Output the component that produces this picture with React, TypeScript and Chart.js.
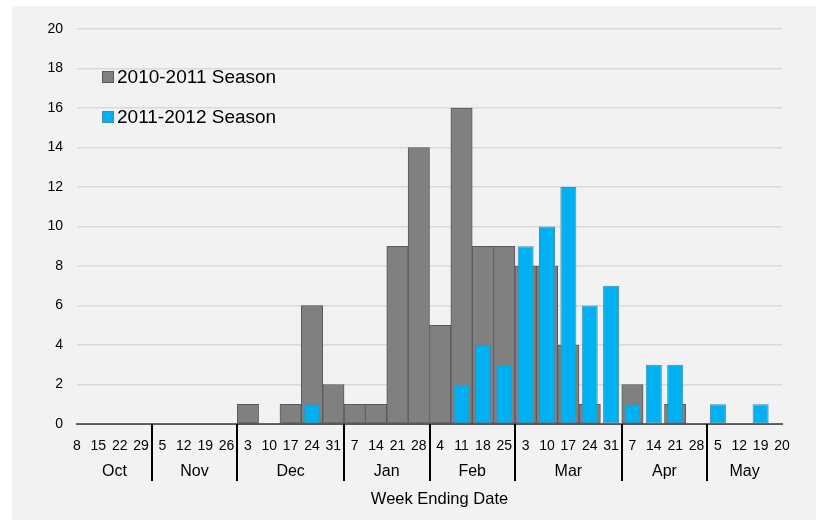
import React, { useEffect, useRef } from "react";
import { Chart, registerables } from "chart.js";

Chart.register(...registerables);

const weekLabels = [
  "8", "15", "22", "29",
  "5", "12", "19", "26",
  "3", "10", "17", "24", "31",
  "7", "14", "21", "28",
  "4", "11", "18", "25",
  "3", "10", "17", "24", "31",
  "7", "14", "21", "28",
  "5", "12", "19", "20",
];

const months = ["Oct", "Nov", "Dec", "Jan", "Feb", "Mar", "Apr", "May"];
const weeksPerMonth = [4, 4, 5, 4, 4, 5, 4, 4];

const season2010 = [
  0, 0, 0, 0,
  0, 0, 0, 0,
  1, 0, 1, 6, 2,
  1, 1, 9, 14,
  5, 16, 9, 9,
  8, 8, 4, 1, 0,
  2, 0, 1, 0,
  0, 0, 0, 0,
];

const season2011 = [
  0, 0, 0, 0,
  0, 0, 0, 0,
  0, 0, 0, 1, 0,
  0, 0, 0, 0,
  0, 2, 4, 3,
  9, 10, 12, 6, 7,
  1, 3, 3, 0,
  1, 0, 1, 0,
];

const seriesNames = ["2010-2011 Season", "2011-2012 Season"];
const GREY = "#808080";
const GREY_BORDER = "#595959";
const BLUE = "#00b0f0";
const BLUE_BORDER = "#3f8fb3";
const FONT = "'Liberation Sans', Arial, sans-serif";

const overlayPlugin = {
  id: "overlay",
  afterDraw(chart: any) {
    const { ctx, chartArea } = chart;
    const x = chart.scales.x;
    const bottom = chartArea.bottom;
    ctx.save();
    const seps: number[] = [];
    let cum = 0;
    for (let i = 0; i < weeksPerMonth.length - 1; i++) {
      cum += weeksPerMonth[i];
      const px = (x.getPixelForValue(cum - 1) + x.getPixelForValue(cum)) / 2;
      seps.push(px);
    }
    ctx.strokeStyle = "#000";
    ctx.lineWidth = 2;
    seps.forEach((px) => {
      ctx.beginPath();
      ctx.moveTo(Math.round(px), bottom);
      ctx.lineTo(Math.round(px), bottom + 57);
      ctx.stroke();
    });
    const bounds = [chartArea.left, ...seps, chartArea.right];
    ctx.fillStyle = "#000";
    ctx.font = `16px ${FONT}`;
    ctx.textAlign = "center";
    ctx.textBaseline = "middle";
    months.forEach((m, i) => {
      ctx.fillText(m, (bounds[i] + bounds[i + 1]) / 2, bottom + 48);
    });
    ctx.font = `16.5px ${FONT}`;
    ctx.fillText("Week Ending Date", (chartArea.left + chartArea.right) / 2 + 10, bottom + 75);
    const colors = [GREY, BLUE];
    const borders = [GREY_BORDER, BLUE_BORDER];
    ctx.font = `19px ${FONT}`;
    ctx.textAlign = "left";
    seriesNames.forEach((name, i) => {
      const ly = chartArea.top + 48 + i * 40;
      ctx.fillStyle = colors[i];
      ctx.fillRect(chartArea.left + 25.5, ly - 5.5, 11, 11);
      ctx.strokeStyle = borders[i];
      ctx.lineWidth = 1;
      ctx.strokeRect(chartArea.left + 25.5, ly - 5.5, 11, 11);
      ctx.fillStyle = "#000";
      ctx.fillText(name, chartArea.left + 40, ly + 1);
    });
    ctx.restore();
  },
};

export default function App() {
  const canvasRef = useRef<HTMLCanvasElement | null>(null);

  useEffect(() => {
    document.body.style.margin = "0";
    const canvas = canvasRef.current;
    if (!canvas) return;
    const chart = new Chart(canvas, {
      type: "bar",
      data: {
        labels: weekLabels,
        datasets: [
          {
            label: seriesNames[0],
            data: season2010,
            backgroundColor: GREY,
            borderColor: GREY_BORDER,
            borderWidth: (c: any) => (c.raw ? 1 : 0),
            borderSkipped: false,
            barPercentage: 1,
            categoryPercentage: 1,
            grouped: false,
            order: 2,
          },
          {
            label: seriesNames[1],
            data: season2011,
            backgroundColor: BLUE,
            borderColor: BLUE_BORDER,
            borderWidth: (c: any) => (c.raw ? 1 : 0),
            borderSkipped: false,
            barPercentage: 0.75,
            categoryPercentage: 1,
            grouped: false,
            order: 1,
          },
        ],
      },
      options: {
        responsive: false,
        animation: false,
        devicePixelRatio: 1,
        layout: { padding: { left: 0, right: 36, top: 29, bottom: 0 } },
        plugins: {
          legend: { display: false },
          tooltip: { enabled: false },
        },
        scales: {
          x: {
            type: "category",
            offset: false,
            stacked: false,
            grid: { display: false, drawTicks: false },
            border: { display: true, color: "#595959", width: 2 },
            ticks: {
              autoSkip: false,
              maxRotation: 0,
              minRotation: 0,
              padding: 14,
              color: "#000",
              font: { family: FONT, size: 14 },
            },
            afterFit: (s: any) => {
              s.height = 96;
            },
          },
          y: {
            min: 0,
            max: 20,
            ticks: {
              stepSize: 2,
              padding: 14,
              color: "#000",
              font: { family: FONT, size: 14 },
            },
            grid: { color: "#d9d9d9", lineWidth: 1.5, drawTicks: false },
            border: { display: false },
            afterFit: (s: any) => {
              s.width = 77;
            },
          },
        },
      } as any,
      plugins: [overlayPlugin],
    });
    return () => chart.destroy();
  }, []);

  return (
    <div style={{ position: "relative", width: 818, height: 520, background: "#fff", overflow: "hidden" }}>
      <div style={{ position: "absolute", left: 12, top: 6, width: 804, height: 514, background: "#f2f2f2" }} />
      <canvas ref={canvasRef} width={818} height={520} style={{ position: "absolute", left: 0, top: 0 }} />
    </div>
  );
}
